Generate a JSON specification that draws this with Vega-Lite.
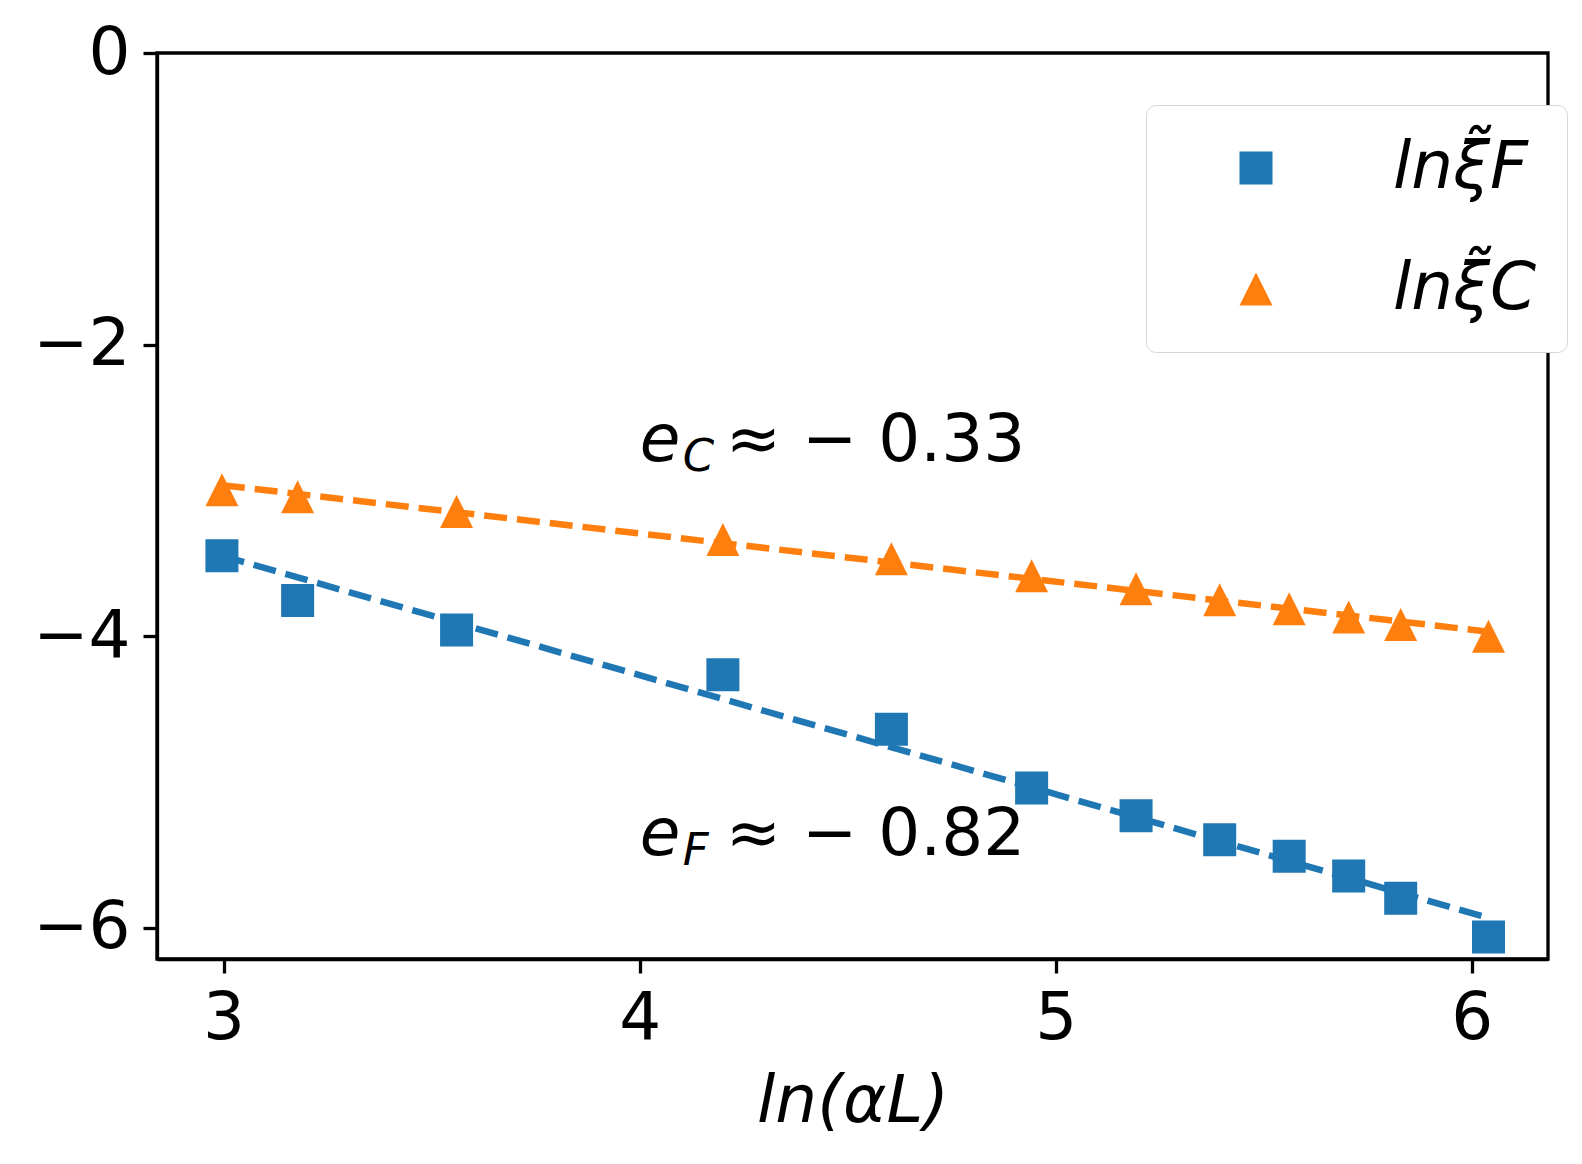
{
  "$schema": "https://vega.github.io/schema/vega-lite/v6.json",
  "width": 1391,
  "height": 906,
  "autosize": {"type": "none"},
  "padding": {"left": 157, "top": 53, "right": 34, "bottom": 205},
  "background": "white",
  "config": {
    "font": "DejaVu Sans",
    "view": {"stroke": "black", "strokeWidth": 3.3},
    "axis": {
      "grid": false,
      "domainColor": "black",
      "domainWidth": 3.3,
      "tickColor": "black",
      "tickWidth": 3.3,
      "tickSize": 14,
      "labelFont": "DejaVu Sans",
      "labelFontSize": 66,
      "labelColor": "black",
      "labelPadding": 13,
      "labelFlush": false,
      "labelOverlap": false,
      "titleFont": "DejaVu Sans",
      "titleFontSize": 66,
      "titleFontWeight": "normal",
      "titleFontStyle": "italic",
      "titleColor": "black"
    }
  },
  "datasets": {
    "points": [
      {"lnaL": 2.996, "value": -3.448, "series": "lnξ̃F"},
      {"lnaL": 3.178, "value": -3.756, "series": "lnξ̃F"},
      {"lnaL": 3.56, "value": -3.957, "series": "lnξ̃F"},
      {"lnaL": 4.2, "value": -4.264, "series": "lnξ̃F"},
      {"lnaL": 4.605, "value": -4.639, "series": "lnξ̃F"},
      {"lnaL": 4.942, "value": -5.041, "series": "lnξ̃F"},
      {"lnaL": 5.193, "value": -5.231, "series": "lnξ̃F"},
      {"lnaL": 5.394, "value": -5.396, "series": "lnξ̃F"},
      {"lnaL": 5.561, "value": -5.51, "series": "lnξ̃F"},
      {"lnaL": 5.704, "value": -5.645, "series": "lnξ̃F"},
      {"lnaL": 5.829, "value": -5.798, "series": "lnξ̃F"},
      {"lnaL": 6.04, "value": -6.063, "series": "lnξ̃F"},
      {"lnaL": 2.996, "value": -2.995, "series": "lnξ̃C"},
      {"lnaL": 3.178, "value": -3.043, "series": "lnξ̃C"},
      {"lnaL": 3.56, "value": -3.144, "series": "lnξ̃C"},
      {"lnaL": 4.2, "value": -3.336, "series": "lnξ̃C"},
      {"lnaL": 4.605, "value": -3.468, "series": "lnξ̃C"},
      {"lnaL": 4.942, "value": -3.585, "series": "lnξ̃C"},
      {"lnaL": 5.193, "value": -3.674, "series": "lnξ̃C"},
      {"lnaL": 5.394, "value": -3.75, "series": "lnξ̃C"},
      {"lnaL": 5.561, "value": -3.811, "series": "lnξ̃C"},
      {"lnaL": 5.704, "value": -3.868, "series": "lnξ̃C"},
      {"lnaL": 5.829, "value": -3.919, "series": "lnξ̃C"},
      {"lnaL": 6.04, "value": -4.001, "series": "lnξ̃C"}
    ],
    "fits": [
      {"lnaL": 2.996, "value": -3.448, "series": "lnξ̃F"},
      {"lnaL": 6.04, "value": -5.933, "series": "lnξ̃F"},
      {"lnaL": 2.996, "value": -2.964, "series": "lnξ̃C"},
      {"lnaL": 6.04, "value": -3.969, "series": "lnξ̃C"}
    ],
    "notes": [
      {"lnaL": 4.0, "value": -2.8, "e": "e", "sub": "C", "rest": "≈ − 0.33"},
      {"lnaL": 4.0, "value": -5.5, "e": "e", "sub": "F", "rest": "≈ − 0.82"}
    ]
  },
  "encoding": {
    "x": {
      "field": "lnaL",
      "type": "quantitative",
      "scale": {"domain": [2.84, 6.183], "nice": false, "zero": false},
      "axis": {
        "values": [3, 4, 5, 6],
        "title": "ln(αL)",
        "titleBaseline": "alphabetic",
        "titleY": 162
      }
    },
    "y": {
      "field": "value",
      "type": "quantitative",
      "scale": {"domain": [-6.214, 0], "nice": false, "zero": false},
      "axis": {"values": [0, -2, -4, -6], "title": null}
    }
  },
  "layer": [
    {
      "data": {"name": "fits"},
      "transform": [{"filter": {"field": "series", "equal": "lnξ̃F"}}],
      "mark": {"type": "line", "strokeWidth": 6.5, "strokeDash": [23, 10], "color": "#1f77b4"},
      "encoding": {}
    },
    {
      "data": {"name": "fits"},
      "transform": [{"filter": {"field": "series", "equal": "lnξ̃C"}}],
      "mark": {"type": "line", "strokeWidth": 6.5, "strokeDash": [23, 10], "color": "#ff7f0e"},
      "encoding": {}
    },
    {
      "data": {"name": "points"},
      "mark": {"type": "point", "filled": true, "opacity": 1, "size": 1089, "strokeWidth": 0},
      "encoding": {
        "color": {
          "field": "series",
          "type": "nominal",
          "scale": {"domain": ["lnξ̃F", "lnξ̃C"], "range": ["#1f77b4", "#ff7f0e"]},
          "legend": {
            "title": null,
            "orient": "none",
            "legendX": 989,
            "legendY": 52,
            "padding": 30,
            "symbolOffset": 47,
            "labelOffset": 104,
            "rowPadding": 55,
            "symbolSize": 1089,
            "labelFont": "DejaVu Sans",
            "labelFontSize": 66,
            "labelFontStyle": "italic",
            "labelColor": "black",
            "labelLimit": 400,
            "strokeColor": "#d6d6d6",
            "cornerRadius": 10,
            "fillColor": "white"
          }
        },
        "shape": {
          "field": "series",
          "type": "nominal",
          "scale": {"domain": ["lnξ̃F", "lnξ̃C"], "range": ["square", "M0,-1L-1,1L1,1Z"]}
        }
      }
    },
    {
      "data": {"name": "notes"},
      "mark": {"type": "text", "align": "left", "baseline": "alphabetic", "fontSize": 66, "fontStyle": "italic", "color": "black"},
      "encoding": {"text": {"field": "e"}}
    },
    {
      "data": {"name": "notes"},
      "mark": {"type": "text", "align": "left", "baseline": "alphabetic", "fontSize": 45, "fontStyle": "italic", "color": "black", "dx": 43, "dy": 10},
      "encoding": {"text": {"field": "sub"}}
    },
    {
      "data": {"name": "notes"},
      "mark": {"type": "text", "align": "left", "baseline": "alphabetic", "fontSize": 66, "color": "black", "dx": 86},
      "encoding": {"text": {"field": "rest"}}
    }
  ]
}
